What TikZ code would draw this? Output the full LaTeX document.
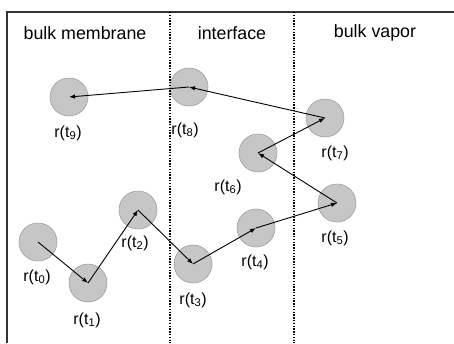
\documentclass[tikz,border=0pt]{standalone}
\usepackage{fontspec}
\setmainfont{Liberation Sans}
\usetikzlibrary{arrows.meta}
\tikzset{
    particle/.style={circle, fill=gray!45, draw=gray!75, line width=0.6pt, minimum size=38pt, inner sep=0pt},
    jump/.style={line width=0.9pt, -{Latex[length=6pt, width=4.5pt]}},
    boundary/.style={line width=1.5pt, dash pattern=on 1.4pt off 1.4pt},
    frame/.style={line width=1.6pt, draw=black!80},
    header/.style={font=\fontsize{17.8}{21}\selectfont},
    tag/.style={font=\fontsize{16}{19}\selectfont, inner sep=1pt},
    common settings/.style={x=1pt, y=-1pt}
}

\begin{document}
\begin{tikzpicture}[common settings]
    \useasboundingbox (0,0) rectangle (454,343);

    \def\t{12}   % top edge of the box
    \def\a{170}  % membrane | interface
    \def\b{294}  % interface | vapor

    % Box
    \draw[frame] (454,\t) -- (7,\t) -- (7,343);

    % Region titles
    \node[header] (hmem) at (85,33) {bulk membrane};
    \node[header] (hint) at (232,33) {interface};
    \node[header] (hvap) at (375,33) {bulk vapor};

    % Particle positions
    \node[particle] (p0) at (38,242) {};
    \node[particle] (p1) at (88,283) {};
    \node[particle] (p2) at (138,210) {};
    \node[particle] (p3) at (193,264) {};
    \node[particle] (p4) at (256,228) {};
    \node[particle] (p5) at (337,203) {};
    \node[particle] (p6) at (258,153) {};
    \node[particle] (p7) at (325,118) {};
    \node[particle] (p8) at (189,87) {};
    \node[particle] (p9) at (69,97) {};

    % Region boundaries
    \draw[boundary] (\a,\t) -- (\a,343);
    \draw[boundary] (\b,\t) -- (\b,343);

    % Trajectory
    \foreach \i [evaluate=\i as \j using int(\i+1)] in {0,...,8}
        \draw[jump] (p\i.center) -- (p\j.center);

    % Time labels
    \node[tag] (l0) at (37,277) {r(t\textsubscript{0})};
    \node[tag] (l1) at (87,320) {r(t\textsubscript{1})};
    \node[tag] (l2) at (135,243) {r(t\textsubscript{2})};
    \node[tag] (l3) at (193,300) {r(t\textsubscript{3})};
    \node[tag] (l4) at (255,262) {r(t\textsubscript{4})};
    \node[tag] (l5) at (335,238) {r(t\textsubscript{5})};
    \node[tag] (l6) at (228,187) {r(t\textsubscript{6})};
    \node[tag] (l7) at (335,153) {r(t\textsubscript{7})};
    \node[tag] (l8) at (185,130) {r(t\textsubscript{8})};
    \node[tag] (l9) at (68,133) {r(t\textsubscript{9})};

\end{tikzpicture}
\end{document}
